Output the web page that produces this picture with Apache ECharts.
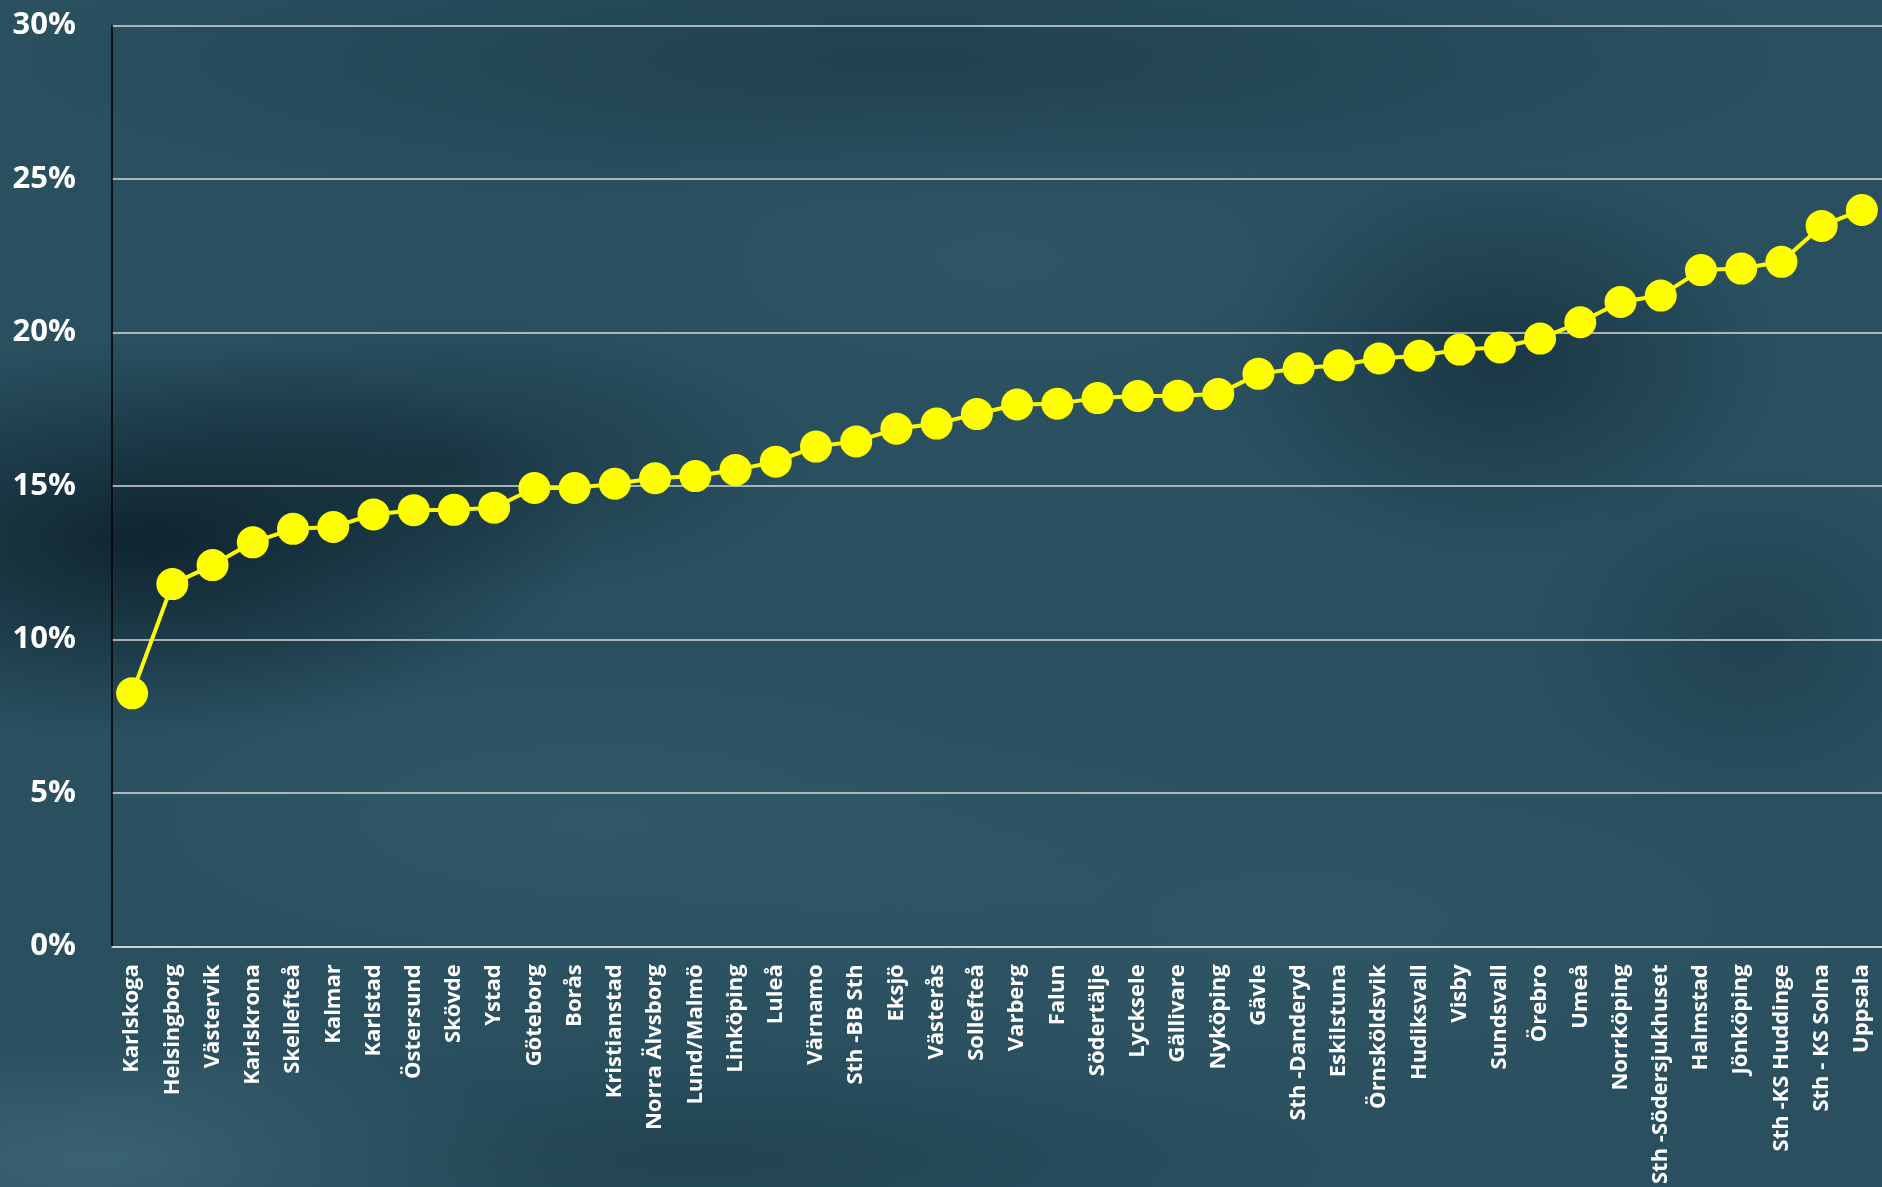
<!DOCTYPE html>
<html>
<head>
<meta charset="utf-8">
<script src="https://cdn.jsdelivr.net/npm/echarts@6/dist/echarts.min.js"></script>
<style>
html,body{margin:0;padding:0;background:#2a5060;}
#c{width:1882px;height:1187px;}
</style>
</head>
<body>
<div id="c"></div>
<script>
const categories = ["Karlskoga","Helsingborg","Västervik","Karlskrona","Skellefteå","Kalmar","Karlstad","Östersund","Skövde","Ystad","Göteborg","Borås","Kristianstad","Norra Älvsborg","Lund/Malmö","Linköping","Luleå","Värnamo","Sth -BB Sth","Eksjö","Västerås","Sollefteå","Varberg","Falun","Södertälje","Lycksele","Gällivare","Nyköping","Gävle","Sth -Danderyd","Eskilstuna","Örnsköldsvik","Hudiksvall","Visby","Sundsvall","Örebro","Umeå","Norrköping","Sth -Södersjukhuset","Halmstad","Jönköping","Sth -KS Huddinge","Sth - KS Solna","Uppsala"];
const values = [8.24,11.8,12.42,13.16,13.6,13.66,14.07,14.21,14.22,14.29,14.93,14.93,15.07,15.25,15.32,15.52,15.79,16.28,16.45,16.86,17.03,17.34,17.65,17.68,17.86,17.93,17.94,17.99,18.65,18.83,18.93,19.15,19.24,19.44,19.51,19.8,20.33,20.99,21.2,22.03,22.08,22.3,23.47,23.99];
const yTicks = [0,5,10,15,20,25,30];

function blob(cx, cy, r, color, sx, sy) {
  return {
    type: 'circle', z: -100, silent: true,
    shape: {cx: cx, cy: cy, r: r},
    scaleX: sx || 1, scaleY: sy || 1, originX: cx, originY: cy,
    style: {fill: {type: 'radial', x: 0.5, y: 0.5, r: 0.5,
      colorStops: [{offset: 0, color: color}, {offset: 1, color: color.replace(/[\d.]+\)$/, '0)')}]}}
  };
}

const chart = echarts.init(document.getElementById('c'), null, {renderer: 'canvas'});
chart.setOption({
  backgroundColor: '#2a5060',
  animation: false,
  textStyle: {fontFamily: 'Open Sans'},
  graphic: {elements: [
    blob(150, 540, 400, 'rgba(8,26,36,0.8)', 1.1, 0.5),
    blob(450, 460, 280, 'rgba(10,30,40,0.45)', 1.3, 0.5),
    blob(1500, 360, 280, 'rgba(10,30,40,0.5)', 1.0, 0.7),
    blob(900, 60, 500, 'rgba(14,36,46,0.35)', 1.8, 0.3),
    blob(1750, 640, 220, 'rgba(14,36,46,0.3)', 1, 0.8),
    blob(600, 820, 380, 'rgba(70,115,130,0.22)', 1.6, 0.5),
    blob(1300, 920, 420, 'rgba(70,110,125,0.2)', 1.6, 0.5),
    blob(120, 1160, 300, 'rgba(90,135,150,0.35)', 1.5, 0.4),
    blob(1000, 260, 300, 'rgba(70,110,125,0.18)', 1.5, 0.6),
    blob(700, 1160, 400, 'rgba(15,38,48,0.3)', 1.6, 0.3)
  ]},
  grid: {left: 112, right: 0, top: 25.5, bottom: 239.5, containLabel: false},
  xAxis: {
    type: 'category',
    data: categories,
    boundaryGap: true,
    axisLine: {show: true, lineStyle: {color: '#d9d9d9', width: 1.5}},
    axisTick: {show: false},
    axisLabel: {
      rotate: 90, interval: 0, color: '#ffffff', fontWeight: 'bold',
      fontFamily: 'Open Sans', fontSize: 22, margin: 18
    }
  },
  yAxis: {
    type: 'value',
    min: 0, max: 30, interval: 5,
    axisLine: {show: true, lineStyle: {color: '#000000', width: 1.5}},
    axisTick: {show: false},
    splitLine: {show: true, lineStyle: {color: '#d9d9d9', width: 1.5}},
    axisLabel: {
      color: '#ffffff', fontWeight: 'bold', fontFamily: 'Open Sans', fontSize: 31,
      margin: 36,
      formatter: function (v) { return yTicks.indexOf(v) >= 0 ? v + '%' : ''; }
    }
  },
  series: [{
    type: 'line',
    data: values,
    symbol: 'circle',
    symbolSize: 32,
    itemStyle: {color: '#ffff00'},
    lineStyle: {color: '#ffff00', width: 4},
    z: 10
  }]
});
</script>
</body>
</html>
